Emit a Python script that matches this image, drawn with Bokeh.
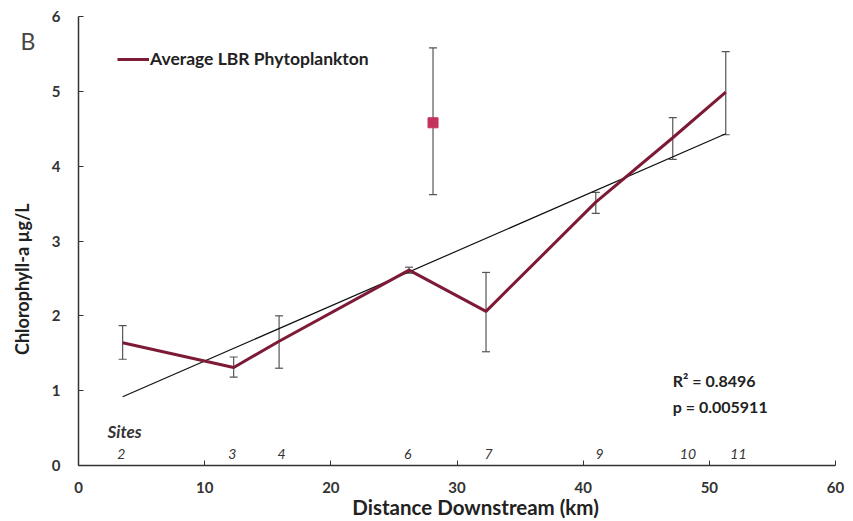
import math
import numpy as np
from bokeh.plotting import figure
from bokeh.models import (Range1d, FixedTicker, Whisker, TeeHead, ColumnDataSource,
                          Legend, LegendItem, Label)
from bokeh.core.properties import value
from bokeh.embed import file_html
from bokeh.resources import INLINE

# ---- data ----
site_km = [3.5, 12.3, 15.9, 26.2, 32.3, 41.0, 47.1, 51.3]
chl_avg = [1.64, 1.31, 1.66, 2.61, 2.06, 3.52, 4.38, 4.99]
chl_hi = [1.87, 1.45, 2.00, 2.65, 2.58, 3.65, 4.65, 5.53]
chl_lo = [1.42, 1.18, 1.30, 2.57, 1.52, 3.37, 4.09, 4.42]

outlier_km = [28.1]
outlier_chl = [4.58]
outlier_hi = [5.58]
outlier_lo = [3.62]

site_names = ["2", "3", "4", "6", "7", "9", "10", "11"]
site_label_km = [3.4, 12.2, 16.1, 26.1, 32.5, 41.3, 48.3, 52.3]

x_ticks = [0, 10, 20, 30, 40, 50, 60]
y_ticks = [0, 1, 2, 3, 4, 5, 6]

x_title = "Distance Downstream (km)"
y_title = "Chlorophyll-a \u00b5g/L"
r2_text = "R\u00b2 = 0.8496"
p_text = "p = 0.005911"

FONT = "Lato"
LINE_COLOR = "#7d1a36"
SQ_COLOR = "#c4335c"
ERR_COLOR = "#555555"

# the plotting area spans the whole canvas; the axes sit at x=0 / y=0
p = figure(width=845, height=520, output_backend="svg", toolbar_location=None,
           x_range=Range1d(-6.18, 60.79), y_range=Range1d(-0.735, 6.214),
           min_border=0)
p.outline_line_color = None
p.xgrid.visible = False
p.ygrid.visible = False
p.background_fill_color = "white"
p.border_fill_color = "white"

for ax in (p.xaxis[0], p.yaxis[0]):
    ax.fixed_location = 0
    ax.axis_line_color = "#333333"
    ax.axis_line_width = 1.5
    ax.major_tick_in = 5
    ax.major_tick_out = 0
    ax.major_tick_line_color = "#333333"
    ax.minor_tick_line_color = None
    ax.major_label_text_font = FONT
    ax.major_label_text_font_style = "bold"
    ax.major_label_text_font_size = "15px"
    ax.major_label_text_color = "#333333"

p.xaxis.bounds = (x_ticks[0], x_ticks[-1])
p.yaxis.bounds = (y_ticks[0], y_ticks[-1])
p.xaxis.ticker = FixedTicker(ticks=x_ticks)
p.yaxis.ticker = FixedTicker(ticks=y_ticks)
p.xaxis.major_label_standoff = 17
p.yaxis.major_label_standoff = 18

# axis titles and panel letter
p.add_layout(Label(x=31.47, y=-0.56, text=x_title, text_font=FONT, text_font_style="bold",
                   text_font_size="20.5px", text_color="#222222", text_align="center",
                   text_baseline="middle"))
p.add_layout(Label(x=-4.48, y=2.49, text=y_title, angle=math.pi / 2, text_font=FONT,
                   text_font_style="bold", text_font_size="18px", text_color="#222222",
                   text_align="center", text_baseline="middle"))
p.add_layout(Label(x=-4.6, y=5.67, text="B", text_font=FONT, text_font_size="23px",
                   text_color="#444444", text_baseline="alphabetic"))

# regression line through the site averages
slope, intercept = np.polyfit(site_km, chl_avg, 1)
fit_x = [site_km[0], site_km[-1]]
fit_y = [intercept + slope * v for v in fit_x]
p.line(fit_x, fit_y, line_color="#111111", line_width=1.2)

src = ColumnDataSource(dict(x=site_km, y=chl_avg, hi=chl_hi, lo=chl_lo))
p.add_layout(Whisker(source=src, base="x", upper="hi", lower="lo", line_color=ERR_COLOR,
                     line_width=1.2,
                     upper_head=TeeHead(size=8, line_color=ERR_COLOR, line_width=1.2),
                     lower_head=TeeHead(size=8, line_color=ERR_COLOR, line_width=1.2)))
src2 = ColumnDataSource(dict(x=outlier_km, y=outlier_chl, hi=outlier_hi, lo=outlier_lo))
p.add_layout(Whisker(source=src2, base="x", upper="hi", lower="lo", line_color=ERR_COLOR,
                     line_width=1.2,
                     upper_head=TeeHead(size=8, line_color=ERR_COLOR, line_width=1.2),
                     lower_head=TeeHead(size=8, line_color=ERR_COLOR, line_width=1.2)))

main = p.line("x", "y", source=src, line_color=LINE_COLOR, line_width=3)
p.scatter(outlier_km, outlier_chl, marker="square", size=10, fill_color=SQ_COLOR,
          line_color=SQ_COLOR)

legend = Legend(items=[LegendItem(label="Average LBR Phytoplankton", renderers=[main])],
                location=(117, 451), glyph_width=32, glyph_height=16, label_standoff=1,
                padding=0, margin=0, border_line_color=None, background_fill_alpha=0,
                label_text_font=FONT, label_text_font_style="bold",
                label_text_font_size="17.5px", label_text_color="#222222")
p.add_layout(legend)

# site labels
p.text(x=site_label_km, y=[0.15] * len(site_names), text=site_names,
       text_font=value(FONT), text_font_style="italic", text_font_size="14px",
       text_color="#333333", text_align="center", text_baseline="middle")
p.add_layout(Label(x=2.3, y=0.45, text="Sites", text_font=FONT, text_font_style="bold italic",
                   text_font_size="17px", text_color="#333333", text_baseline="middle"))

p.add_layout(Label(x=47.1, y=1.14, text=r2_text, text_font=FONT, text_font_style="bold",
                   text_font_size="16px", text_color="#222222", text_baseline="middle"))
p.add_layout(Label(x=47.1, y=0.79, text=p_text, text_font=FONT, text_font_style="bold",
                   text_font_size="16px", text_color="#222222", text_baseline="middle"))

open("out.html", "w").write(file_html(p, INLINE))
